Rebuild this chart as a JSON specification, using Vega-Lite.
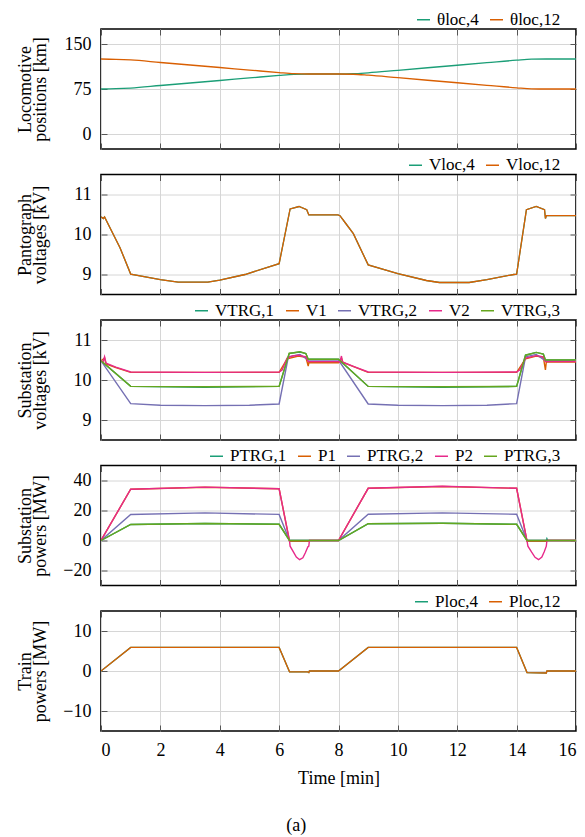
{
  "$schema": "https://vega.github.io/schema/vega-lite/v6.json",
  "padding": {"left": 15, "top": -5, "right": 5, "bottom": 5},
  "bounds": "flush",
  "spacing": 25.5,
  "title": {"text": "(a)", "orient": "bottom", "anchor": "middle", "offset": 29, "dx": 0, "font": "Liberation Serif", "fontSize": 18, "fontWeight": "normal", "color": "black"},
  "resolve": {"scale": {"color": "independent", "y": "independent"}, "legend": {"color": "independent"}},
  "datasets": {
    "p1": [
      {"t":0,"s":"θloc,4","v":75},{"t":0.5,"s":"θloc,4","v":75.5},{"t":1,"s":"θloc,4","v":76.6},{"t":2,"s":"θloc,4","v":80.8},{"t":3,"s":"θloc,4","v":85},{"t":4,"s":"θloc,4","v":89.2},{"t":5,"s":"θloc,4","v":93.4},{"t":6,"s":"θloc,4","v":97.6},{"t":6.5,"s":"θloc,4","v":99.4},{"t":7,"s":"θloc,4","v":100},{"t":8,"s":"θloc,4","v":100},{"t":8.5,"s":"θloc,4","v":100.4},{"t":9,"s":"θloc,4","v":102},{"t":10,"s":"θloc,4","v":106.2},{"t":11,"s":"θloc,4","v":110.4},{"t":12,"s":"θloc,4","v":114.6},{"t":13,"s":"θloc,4","v":118.8},{"t":14,"s":"θloc,4","v":123},{"t":14.5,"s":"θloc,4","v":124.7},{"t":15,"s":"θloc,4","v":125},{"t":16,"s":"θloc,4","v":125},
      {"t":0,"s":"θloc,12","v":125},{"t":0.5,"s":"θloc,12","v":124.5},{"t":1,"s":"θloc,12","v":123.4},{"t":2,"s":"θloc,12","v":119.2},{"t":3,"s":"θloc,12","v":115},{"t":4,"s":"θloc,12","v":110.8},{"t":5,"s":"θloc,12","v":106.6},{"t":6,"s":"θloc,12","v":102.4},{"t":6.5,"s":"θloc,12","v":100.6},{"t":7,"s":"θloc,12","v":100},{"t":8,"s":"θloc,12","v":100},{"t":8.5,"s":"θloc,12","v":99.6},{"t":9,"s":"θloc,12","v":98},{"t":10,"s":"θloc,12","v":93.8},{"t":11,"s":"θloc,12","v":89.6},{"t":12,"s":"θloc,12","v":85.4},{"t":13,"s":"θloc,12","v":81.2},{"t":14,"s":"θloc,12","v":77},{"t":14.5,"s":"θloc,12","v":75.3},{"t":15,"s":"θloc,12","v":75},{"t":16,"s":"θloc,12","v":75}
    ],
    "p2": [
      {"t":0,"s":"Vloc,4","v":10.44},{"t":0.08,"s":"Vloc,4","v":10.4},{"t":0.12,"s":"Vloc,4","v":10.44},{"t":0.64,"s":"Vloc,4","v":9.67},{"t":1,"s":"Vloc,4","v":9.01},{"t":2,"s":"Vloc,4","v":8.87},{"t":2.6,"s":"Vloc,4","v":8.81},{"t":3.6,"s":"Vloc,4","v":8.81},{"t":4,"s":"Vloc,4","v":8.86},{"t":4.85,"s":"Vloc,4","v":9},{"t":6,"s":"Vloc,4","v":9.27},{"t":6.37,"s":"Vloc,4","v":10.64},{"t":6.67,"s":"Vloc,4","v":10.7},{"t":6.93,"s":"Vloc,4","v":10.62},{"t":7,"s":"Vloc,4","v":10.49},{"t":7.98,"s":"Vloc,4","v":10.49},{"t":8.05,"s":"Vloc,4","v":10.47},{"t":8.22,"s":"Vloc,4","v":10.3},{"t":8.5,"s":"Vloc,4","v":10.02},{"t":9,"s":"Vloc,4","v":9.24},{"t":10,"s":"Vloc,4","v":9.02},{"t":10.96,"s":"Vloc,4","v":8.85},{"t":11.4,"s":"Vloc,4","v":8.8},{"t":12.4,"s":"Vloc,4","v":8.8},{"t":13,"s":"Vloc,4","v":8.87},{"t":13.9,"s":"Vloc,4","v":9},{"t":14,"s":"Vloc,4","v":9.01},{"t":14.33,"s":"Vloc,4","v":10.62},{"t":14.66,"s":"Vloc,4","v":10.7},{"t":14.94,"s":"Vloc,4","v":10.62},{"t":14.97,"s":"Vloc,4","v":10.4},{"t":15,"s":"Vloc,4","v":10.47},{"t":16,"s":"Vloc,4","v":10.47},
      {"t":0,"s":"Vloc,12","v":10.44},{"t":0.08,"s":"Vloc,12","v":10.4},{"t":0.12,"s":"Vloc,12","v":10.44},{"t":0.64,"s":"Vloc,12","v":9.67},{"t":1,"s":"Vloc,12","v":9.01},{"t":2,"s":"Vloc,12","v":8.87},{"t":2.6,"s":"Vloc,12","v":8.81},{"t":3.6,"s":"Vloc,12","v":8.81},{"t":4,"s":"Vloc,12","v":8.86},{"t":4.85,"s":"Vloc,12","v":9},{"t":6,"s":"Vloc,12","v":9.27},{"t":6.37,"s":"Vloc,12","v":10.64},{"t":6.67,"s":"Vloc,12","v":10.7},{"t":6.93,"s":"Vloc,12","v":10.62},{"t":7,"s":"Vloc,12","v":10.49},{"t":7.98,"s":"Vloc,12","v":10.49},{"t":8.05,"s":"Vloc,12","v":10.47},{"t":8.22,"s":"Vloc,12","v":10.3},{"t":8.5,"s":"Vloc,12","v":10.02},{"t":9,"s":"Vloc,12","v":9.24},{"t":10,"s":"Vloc,12","v":9.02},{"t":10.96,"s":"Vloc,12","v":8.85},{"t":11.4,"s":"Vloc,12","v":8.8},{"t":12.4,"s":"Vloc,12","v":8.8},{"t":13,"s":"Vloc,12","v":8.87},{"t":13.9,"s":"Vloc,12","v":9},{"t":14,"s":"Vloc,12","v":9.01},{"t":14.33,"s":"Vloc,12","v":10.62},{"t":14.66,"s":"Vloc,12","v":10.7},{"t":14.94,"s":"Vloc,12","v":10.62},{"t":14.97,"s":"Vloc,12","v":10.4},{"t":15,"s":"Vloc,12","v":10.47},{"t":16,"s":"Vloc,12","v":10.47}
    ],
    "p3": [
      {"t":0,"s":"VTRG,1","v":10.48},{"t":1,"s":"VTRG,1","v":9.84},{"t":3.5,"s":"VTRG,1","v":9.82},{"t":6,"s":"VTRG,1","v":9.84},{"t":6.34,"s":"VTRG,1","v":10.66},{"t":6.5,"s":"VTRG,1","v":10.68},{"t":6.7,"s":"VTRG,1","v":10.7},{"t":6.9,"s":"VTRG,1","v":10.66},{"t":6.98,"s":"VTRG,1","v":10.52},{"t":8,"s":"VTRG,1","v":10.52},{"t":9,"s":"VTRG,1","v":9.84},{"t":11.5,"s":"VTRG,1","v":9.82},{"t":14,"s":"VTRG,1","v":9.84},{"t":14.3,"s":"VTRG,1","v":10.62},{"t":14.66,"s":"VTRG,1","v":10.69},{"t":14.9,"s":"VTRG,1","v":10.65},{"t":14.97,"s":"VTRG,1","v":10.5},{"t":16,"s":"VTRG,1","v":10.5},
      {"t":0,"s":"V1","v":10.48},{"t":0.12,"s":"V1","v":10.55},{"t":0.17,"s":"V1","v":10.4},{"t":0.5,"s":"V1","v":10.31},{"t":1,"s":"V1","v":10.19},{"t":6,"s":"V1","v":10.19},{"t":6.27,"s":"V1","v":10.53},{"t":6.65,"s":"V1","v":10.6},{"t":6.9,"s":"V1","v":10.57},{"t":6.98,"s":"V1","v":10.35},{"t":7,"s":"V1","v":10.43},{"t":8,"s":"V1","v":10.43},{"t":8.1,"s":"V1","v":10.55},{"t":8.15,"s":"V1","v":10.44},{"t":9,"s":"V1","v":10.19},{"t":14,"s":"V1","v":10.19},{"t":14.3,"s":"V1","v":10.53},{"t":14.66,"s":"V1","v":10.6},{"t":14.9,"s":"V1","v":10.57},{"t":14.97,"s":"V1","v":10.25},{"t":15,"s":"V1","v":10.45},{"t":16,"s":"V1","v":10.45},
      {"t":0,"s":"VTRG,2","v":10.48},{"t":1,"s":"VTRG,2","v":9.41},{"t":2,"s":"VTRG,2","v":9.37},{"t":3.5,"s":"VTRG,2","v":9.36},{"t":5,"s":"VTRG,2","v":9.37},{"t":6,"s":"VTRG,2","v":9.4},{"t":6.31,"s":"VTRG,2","v":10.58},{"t":6.7,"s":"VTRG,2","v":10.64},{"t":6.98,"s":"VTRG,2","v":10.5},{"t":8,"s":"VTRG,2","v":10.5},{"t":9,"s":"VTRG,2","v":9.4},{"t":10,"s":"VTRG,2","v":9.37},{"t":11.5,"s":"VTRG,2","v":9.36},{"t":13,"s":"VTRG,2","v":9.37},{"t":14,"s":"VTRG,2","v":9.41},{"t":14.3,"s":"VTRG,2","v":10.58},{"t":14.66,"s":"VTRG,2","v":10.64},{"t":14.97,"s":"VTRG,2","v":10.48},{"t":16,"s":"VTRG,2","v":10.48},
      {"t":0,"s":"V2","v":10.49},{"t":0.07,"s":"V2","v":10.45},{"t":0.12,"s":"V2","v":10.58},{"t":0.17,"s":"V2","v":10.42},{"t":0.5,"s":"V2","v":10.32},{"t":1,"s":"V2","v":10.2},{"t":3.5,"s":"V2","v":10.19},{"t":6,"s":"V2","v":10.2},{"t":6.1,"s":"V2","v":10.25},{"t":6.27,"s":"V2","v":10.55},{"t":6.45,"s":"V2","v":10.6},{"t":6.65,"s":"V2","v":10.62},{"t":6.9,"s":"V2","v":10.58},{"t":6.98,"s":"V2","v":10.46},{"t":8,"s":"V2","v":10.46},{"t":8.05,"s":"V2","v":10.44},{"t":8.1,"s":"V2","v":10.6},{"t":8.13,"s":"V2","v":10.45},{"t":8.5,"s":"V2","v":10.34},{"t":9,"s":"V2","v":10.2},{"t":11.5,"s":"V2","v":10.19},{"t":14,"s":"V2","v":10.2},{"t":14.1,"s":"V2","v":10.25},{"t":14.3,"s":"V2","v":10.55},{"t":14.66,"s":"V2","v":10.61},{"t":14.9,"s":"V2","v":10.58},{"t":14.97,"s":"V2","v":10.46},{"t":16,"s":"V2","v":10.46},
      {"t":0,"s":"VTRG,3","v":10.48},{"t":1,"s":"VTRG,3","v":9.84},{"t":3.5,"s":"VTRG,3","v":9.83},{"t":6,"s":"VTRG,3","v":9.84},{"t":6.34,"s":"VTRG,3","v":10.67},{"t":6.5,"s":"VTRG,3","v":10.68},{"t":6.7,"s":"VTRG,3","v":10.71},{"t":6.9,"s":"VTRG,3","v":10.66},{"t":6.98,"s":"VTRG,3","v":10.52},{"t":8,"s":"VTRG,3","v":10.52},{"t":9,"s":"VTRG,3","v":9.84},{"t":11.5,"s":"VTRG,3","v":9.83},{"t":14,"s":"VTRG,3","v":9.84},{"t":14.3,"s":"VTRG,3","v":10.62},{"t":14.66,"s":"VTRG,3","v":10.69},{"t":14.9,"s":"VTRG,3","v":10.65},{"t":14.97,"s":"VTRG,3","v":10.5},{"t":16,"s":"VTRG,3","v":10.5}
    ],
    "p4": [
      {"t":0,"s":"PTRG,1","v":0},{"t":1,"s":"PTRG,1","v":10.7},{"t":3.5,"s":"PTRG,1","v":11.3},{"t":6,"s":"PTRG,1","v":10.8},{"t":6.35,"s":"PTRG,1","v":0},{"t":8,"s":"PTRG,1","v":0},{"t":9,"s":"PTRG,1","v":11.2},{"t":11.5,"s":"PTRG,1","v":11.5},{"t":14,"s":"PTRG,1","v":10.8},{"t":14.35,"s":"PTRG,1","v":0},{"t":15,"s":"PTRG,1","v":0},{"t":15.02,"s":"PTRG,1","v":1.2},{"t":15.05,"s":"PTRG,1","v":0},{"t":16,"s":"PTRG,1","v":0},
      {"t":0,"s":"P1","v":0},{"t":1,"s":"P1","v":34.2},{"t":3.5,"s":"P1","v":35.5},{"t":6,"s":"P1","v":34.5},{"t":6.35,"s":"P1","v":-0.5},{"t":7,"s":"P1","v":-0.5},{"t":7.02,"s":"P1","v":0},{"t":8,"s":"P1","v":0},{"t":9,"s":"P1","v":34.8},{"t":11.5,"s":"P1","v":36},{"t":14,"s":"P1","v":34.8},{"t":14.35,"s":"P1","v":-0.5},{"t":15,"s":"P1","v":-0.5},{"t":15.05,"s":"P1","v":0},{"t":16,"s":"P1","v":0},
      {"t":0,"s":"PTRG,2","v":0},{"t":1,"s":"PTRG,2","v":17.3},{"t":3.5,"s":"PTRG,2","v":18.4},{"t":6,"s":"PTRG,2","v":17.4},{"t":6.35,"s":"PTRG,2","v":0},{"t":8,"s":"PTRG,2","v":0},{"t":9,"s":"PTRG,2","v":17.5},{"t":11.5,"s":"PTRG,2","v":18.4},{"t":14,"s":"PTRG,2","v":17.5},{"t":14.35,"s":"PTRG,2","v":0},{"t":16,"s":"PTRG,2","v":0},
      {"t":0,"s":"P2","v":0},{"t":1,"s":"P2","v":34.2},{"t":3.5,"s":"P2","v":35.6},{"t":6,"s":"P2","v":34.5},{"t":6.35,"s":"P2","v":-0.3},{"t":6.37,"s":"P2","v":-3.8},{"t":6.48,"s":"P2","v":-7.6},{"t":6.58,"s":"P2","v":-11},{"t":6.69,"s":"P2","v":-12.8},{"t":6.8,"s":"P2","v":-11.5},{"t":6.88,"s":"P2","v":-8.3},{"t":6.97,"s":"P2","v":-4.2},{"t":7,"s":"P2","v":-3.8},{"t":7.02,"s":"P2","v":0},{"t":8,"s":"P2","v":0},{"t":9,"s":"P2","v":34.8},{"t":11.5,"s":"P2","v":36.2},{"t":14,"s":"P2","v":34.8},{"t":14.35,"s":"P2","v":-0.3},{"t":14.38,"s":"P2","v":-3.8},{"t":14.5,"s":"P2","v":-7.6},{"t":14.62,"s":"P2","v":-11.2},{"t":14.74,"s":"P2","v":-12.8},{"t":14.85,"s":"P2","v":-11},{"t":14.93,"s":"P2","v":-7.5},{"t":15,"s":"P2","v":-3.8},{"t":15.02,"s":"P2","v":0},{"t":16,"s":"P2","v":0},
      {"t":0,"s":"PTRG,3","v":0},{"t":1,"s":"PTRG,3","v":10.7},{"t":3.5,"s":"PTRG,3","v":11.3},{"t":6,"s":"PTRG,3","v":10.8},{"t":6.35,"s":"PTRG,3","v":0},{"t":8,"s":"PTRG,3","v":0},{"t":9,"s":"PTRG,3","v":11.2},{"t":11.5,"s":"PTRG,3","v":11.5},{"t":14,"s":"PTRG,3","v":10.8},{"t":14.35,"s":"PTRG,3","v":0},{"t":16,"s":"PTRG,3","v":0}
    ],
    "p5": [
      {"t":0,"s":"Ploc,4","v":0},{"t":1,"s":"Ploc,4","v":5.9},{"t":6,"s":"Ploc,4","v":5.9},{"t":6.35,"s":"Ploc,4","v":-0.2},{"t":6.95,"s":"Ploc,4","v":-0.2},{"t":7,"s":"Ploc,4","v":-0.4},{"t":7.02,"s":"Ploc,4","v":0},{"t":8,"s":"Ploc,4","v":0},{"t":9,"s":"Ploc,4","v":5.9},{"t":14,"s":"Ploc,4","v":5.9},{"t":14.35,"s":"Ploc,4","v":-0.4},{"t":15,"s":"Ploc,4","v":-0.5},{"t":15.02,"s":"Ploc,4","v":0},{"t":16,"s":"Ploc,4","v":0},
      {"t":0,"s":"Ploc,12","v":0},{"t":1,"s":"Ploc,12","v":5.9},{"t":6,"s":"Ploc,12","v":5.9},{"t":6.35,"s":"Ploc,12","v":-0.2},{"t":6.95,"s":"Ploc,12","v":-0.2},{"t":7,"s":"Ploc,12","v":-0.4},{"t":7.02,"s":"Ploc,12","v":0},{"t":8,"s":"Ploc,12","v":0},{"t":9,"s":"Ploc,12","v":5.9},{"t":14,"s":"Ploc,12","v":5.9},{"t":14.35,"s":"Ploc,12","v":-0.4},{"t":15,"s":"Ploc,12","v":-0.5},{"t":15.02,"s":"Ploc,12","v":0},{"t":16,"s":"Ploc,12","v":0}
    ]
  },
  "vconcat": [
    {
      "data": {"name": "p1"}, "width": 475, "height": 120,
      "resolve": {"axis": {"x": "independent", "y": "independent"}},
      "layer": [
        {
          "mark": {"type": "line", "strokeWidth": 1.3, "interpolate": "monotone", "clip": true},
          "encoding": {
            "x": {"field": "t", "type": "quantitative", "scale": {"domain": [0, 16], "nice": false}, "axis": {"values": [0,2,4,6,8,10,12,14,16], "labels": false, "title": null}},
            "y": {"field": "v", "type": "quantitative", "scale": {"domain": [-25, 175], "nice": false, "zero": false}, "axis": {"values": [0, 75, 150], "title": ["Locomotive", "positions [km]"], "titleX": -67, "titleY": 60}},
            "color": {"field": "s", "type": "nominal", "sort": null, "scale": {"domain": ["θloc,4", "θloc,12"], "range": ["#1b9e77", "#d95f02"]}, "legend": {"title": null}}
          }
        },
        {
          "mark": {"type": "line", "strokeOpacity": 0, "clip": true},
          "encoding": {
            "x": {"field": "t", "type": "quantitative", "axis": {"orient": "top", "values": [0,2,4,6,8,10,12,14,16], "labels": false, "grid": false, "title": null}},
            "y": {"field": "v", "type": "quantitative", "axis": {"orient": "right", "values": [0, 75, 150], "labels": false, "grid": false, "title": null}},
            "detail": {"field": "s"}
          }
        }
      ]
    },
    {
      "data": {"name": "p2"}, "width": 475, "height": 120,
      "resolve": {"axis": {"x": "independent", "y": "independent"}},
      "layer": [
        {
          "mark": {"type": "line", "strokeWidth": 1.3, "clip": true},
          "encoding": {
            "x": {"field": "t", "type": "quantitative", "scale": {"domain": [0, 16], "nice": false}, "axis": {"values": [0,2,4,6,8,10,12,14,16], "labels": false, "title": null}},
            "y": {"field": "v", "type": "quantitative", "scale": {"domain": [8.5, 11.5], "nice": false, "zero": false}, "axis": {"values": [9, 10, 11], "title": ["Pantograph", "voltages [kV]"], "titleX": -67, "titleY": 60}},
            "color": {"field": "s", "type": "nominal", "sort": null, "scale": {"domain": ["Vloc,4", "Vloc,12"], "range": ["#1b9e77", "#d95f02"]}, "legend": {"title": null}}
          }
        },
        {
          "mark": {"type": "line", "strokeOpacity": 0, "clip": true},
          "encoding": {
            "x": {"field": "t", "type": "quantitative", "axis": {"orient": "top", "values": [0,2,4,6,8,10,12,14,16], "labels": false, "grid": false, "title": null}},
            "y": {"field": "v", "type": "quantitative", "axis": {"orient": "right", "values": [9, 10, 11], "labels": false, "grid": false, "title": null}},
            "detail": {"field": "s"}
          }
        }
      ]
    },
    {
      "data": {"name": "p3"}, "width": 475, "height": 120,
      "resolve": {"axis": {"x": "independent", "y": "independent"}},
      "layer": [
        {
          "mark": {"type": "line", "strokeWidth": 1.4, "clip": true},
          "encoding": {
            "x": {"field": "t", "type": "quantitative", "scale": {"domain": [0, 16], "nice": false}, "axis": {"values": [0,2,4,6,8,10,12,14,16], "labels": false, "title": null}},
            "y": {"field": "v", "type": "quantitative", "scale": {"domain": [8.5, 11.5], "nice": false, "zero": false}, "axis": {"values": [9, 10, 11], "title": ["Substation", "voltages [kV]"], "titleX": -67, "titleY": 60}},
            "color": {"field": "s", "type": "nominal", "sort": null, "scale": {"domain": ["VTRG,1", "V1", "VTRG,2", "V2", "VTRG,3"], "range": ["#1b9e77", "#d95f02", "#7570b3", "#e7298a", "#66a61e"]}, "legend": {"title": null}}
          }
        },
        {
          "mark": {"type": "line", "strokeOpacity": 0, "clip": true},
          "encoding": {
            "x": {"field": "t", "type": "quantitative", "axis": {"orient": "top", "values": [0,2,4,6,8,10,12,14,16], "labels": false, "grid": false, "title": null}},
            "y": {"field": "v", "type": "quantitative", "axis": {"orient": "right", "values": [9, 10, 11], "labels": false, "grid": false, "title": null}},
            "detail": {"field": "s"}
          }
        }
      ]
    },
    {
      "data": {"name": "p4"}, "width": 475, "height": 120,
      "resolve": {"axis": {"x": "independent", "y": "independent"}},
      "layer": [
        {
          "mark": {"type": "line", "strokeWidth": 1.4, "clip": true},
          "encoding": {
            "x": {"field": "t", "type": "quantitative", "scale": {"domain": [0, 16], "nice": false}, "axis": {"values": [0,2,4,6,8,10,12,14,16], "labels": false, "title": null}},
            "y": {"field": "v", "type": "quantitative", "scale": {"domain": [-30, 50], "nice": false, "zero": false}, "axis": {"values": [-20, 0, 20, 40], "title": ["Substation", "powers [MW]"], "titleX": -67, "titleY": 60}},
            "color": {"field": "s", "type": "nominal", "sort": null, "scale": {"domain": ["PTRG,1", "P1", "PTRG,2", "P2", "PTRG,3"], "range": ["#1b9e77", "#d95f02", "#7570b3", "#e7298a", "#66a61e"]}, "legend": {"title": null}}
          }
        },
        {
          "mark": {"type": "line", "strokeOpacity": 0, "clip": true},
          "encoding": {
            "x": {"field": "t", "type": "quantitative", "axis": {"orient": "top", "values": [0,2,4,6,8,10,12,14,16], "labels": false, "grid": false, "title": null}},
            "y": {"field": "v", "type": "quantitative", "axis": {"orient": "right", "values": [-20, 0, 20, 40], "labels": false, "grid": false, "title": null}},
            "detail": {"field": "s"}
          }
        }
      ]
    },
    {
      "data": {"name": "p5"}, "width": 475, "height": 120,
      "resolve": {"axis": {"x": "independent", "y": "independent"}},
      "layer": [
        {
          "mark": {"type": "line", "strokeWidth": 1.3, "clip": true},
          "encoding": {
            "x": {"field": "t", "type": "quantitative", "scale": {"domain": [0, 16], "nice": false}, "axis": {"values": [0,2,4,6,8,10,12,14,16], "title": "Time [min]", "labelPadding": 16, "titlePadding": 10}},
            "y": {"field": "v", "type": "quantitative", "scale": {"domain": [-15, 15], "nice": false, "zero": false}, "axis": {"values": [-10, 0, 10], "title": ["Train", "powers [MW]"], "titleX": -67, "titleY": 60}},
            "color": {"field": "s", "type": "nominal", "sort": null, "scale": {"domain": ["Ploc,4", "Ploc,12"], "range": ["#1b9e77", "#d95f02"]}, "legend": {"title": null}}
          }
        },
        {
          "mark": {"type": "line", "strokeOpacity": 0, "clip": true},
          "encoding": {
            "x": {"field": "t", "type": "quantitative", "axis": {"orient": "top", "values": [0,2,4,6,8,10,12,14,16], "labels": false, "grid": false, "title": null}},
            "y": {"field": "v", "type": "quantitative", "axis": {"orient": "right", "values": [-10, 0, 10], "labels": false, "grid": false, "title": null}},
            "detail": {"field": "s"}
          }
        }
      ]
    }
  ],
  "config": {
    "font": "Liberation Serif",
    "view": {"stroke": "black", "strokeWidth": 1.6},
    "axis": {"grid": true, "gridColor": "#d6d6d6", "gridWidth": 1, "domain": false, "tickColor": "#555", "tickSize": -6, "tickWidth": 1, "labelPadding": 16, "labelFont": "Liberation Serif", "labelFontSize": 18, "labelColor": "black", "titleFont": "Liberation Serif", "titleFontSize": 18, "titleFontWeight": "normal", "titleColor": "black", "titleLineHeight": 15},
    "legend": {"orient": "top", "direction": "horizontal", "symbolType": "stroke", "symbolSize": 169, "symbolStrokeWidth": 1.5, "labelFont": "Liberation Serif", "labelFontSize": 17, "labelColor": "black", "columnPadding": 8, "labelOffset": 5, "padding": 15, "offset": -15, "layout": {"top": {"anchor": "end"}}}
  }
}
